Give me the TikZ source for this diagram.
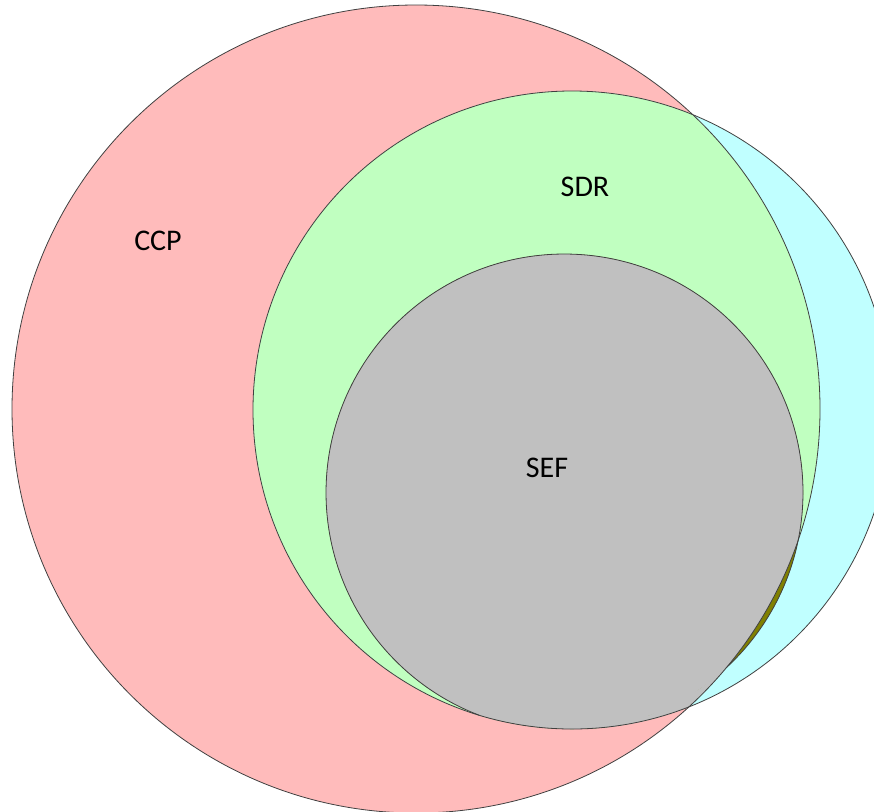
\documentclass[tikz,border=0pt]{standalone}
\usepackage{fontspec}
\setmainfont{Carlito}
\definecolor{ccpred}{RGB}{255,187,187}
\definecolor{sdrgreen}{RGB}{192,255,192}
\definecolor{cyanset}{RGB}{192,255,255}
\definecolor{sefgray}{RGB}{192,192,192}
\definecolor{sliver}{RGB}{128,128,0}
\begin{document}
\begin{tikzpicture}[x=1pt,y=-1pt,
  setline/.style={draw=black!75,line width=0.8pt},
  lbl/.style={font=\fontsize{30}{36}\selectfont,inner sep=0pt}]
\useasboundingbox (0,0) rectangle (874,811);
\clip (0,0) rectangle (874,811);
% CCP circle
\fill[ccpred] (416,409) circle[radius=404];
% outer circle (cyan part = outside CCP)
\fill[cyanset] (572,410) circle[radius=319];
% SDR = outer circle inside CCP
\begin{scope}
  \clip (572,410) circle[radius=319];
  \fill[sdrgreen] (416,409) circle[radius=404];
  \fill[sliver] (564.5,492.5) circle[radius=238.5];
\end{scope}
% SEF
\begin{scope}
  \clip (572,410) circle[radius=319];
  \clip (416,409) circle[radius=404];
  \fill[sefgray] (564.5,492.5) circle[radius=238.5];
  \fill[sefgray] (606,727.4) -- (650,715.1) -- (700,688.8) -- (726,668)
    -- (770,690) -- (720,770) -- (600,770) -- cycle;
\end{scope}
% outlines
\draw[setline] (416,409) circle[radius=404];
\draw[setline] (572,410) circle[radius=319];
\draw[setline] (564.5,492.5) ++(47.35:238.5)
  arc[start angle=47.35,end angle=-249,radius=238.5];
\node[lbl] (ccp) at (158,241) {CCP};
\node[lbl] (sdr) at (585,187) {SDR};
\node[lbl] (sef) at (547,468) {SEF};
\end{tikzpicture}
\end{document}
